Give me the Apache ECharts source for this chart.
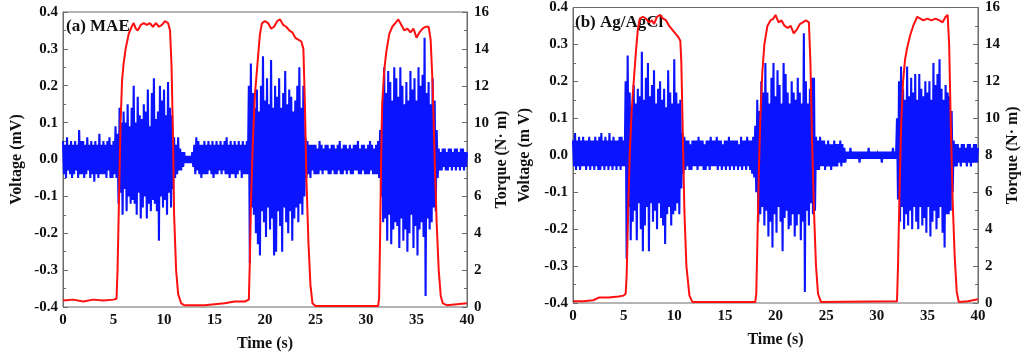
<!DOCTYPE html>
<html>
<head>
<meta charset="utf-8">
<script src="https://cdn.jsdelivr.net/npm/echarts@6/dist/echarts.min.js"></script>
<style>
html,body{margin:0;padding:0;background:#fff;}
#chart{width:1024px;height:357px;}
</style>
</head>
<body>
<div id="chart"></div>
<script>
// Time axis ticks
const timeTicks = [0, 5, 10, 15, 20, 25, 30, 35, 40];
// Sample spacing of the voltage traces (s)
const SAMPLE_DT = 0.1;

// Panel (a) MAE: voltage samples, units of 0.01 mV, one row per second
const voltA = [
 5,-4,4,-5,6,-3,4,-4,5,-5,
 4,-4,5,-3,4,-5,8,-4,5,-4,
 5,-5,4,-4,6,-3,4,-5,5,-4,
 4,-6,5,-4,4,-5,7,-4,4,-4,
 5,-4,4,-5,5,-3,6,-5,4,-5,
 5,-4,9,-5,7,-12,14,-9,10,-15,
 13,-8,10,-14,15,-10,9,-12,14,-11,
 20,-12,10,-15,17,-9,12,-16,11,-13,
 15,-10,13,-16,19,-12,9,-14,18,-11,
 22,-12,11,-14,13,-22,20,-10,16,-13,
 19,-11,12,-15,21,-9,14,-13,12,-8,
 6,-5,4,-4,6,-3,3,-3,2,-2,
 2,-1,1,-1,1,-1,1,-1,2,-2,
 4,-4,6,-3,5,-4,4,-5,4,-4,
 5,-4,4,-4,5,-3,4,-4,5,-5,
 4,-4,5,-4,4,-3,5,-4,4,-3,
 5,-4,6,-4,4,-5,5,-4,4,-4,
 5,-5,4,-4,5,-3,4,-5,5,-4,
 4,-4,5,-4,20,-28,26,-13,18,-15,
 14,-20,19,-23,13,-26,20,-14,28,-17,
 16,-21,22,-13,15,-19,27,-16,14,-26,
 20,-25,17,-14,22,-18,14,-25,18,-13,
 24,-17,15,-20,19,-14,17,-22,13,-16,
 16,-13,20,-17,25,-12,14,-15,20,-10,
 6,-5,5,-4,4,-5,4,-3,4,-4,
 4,-4,3,-4,5,-3,4,-4,3,-3,
 4,-3,4,-4,3,-4,4,-3,4,-4,
 3,-4,4,-3,5,-4,3,-4,4,-3,
 4,-4,3,-3,4,-4,3,-4,4,-3,
 4,-3,5,-4,3,-4,4,-3,4,-4,
 3,-4,4,-4,5,-3,4,-4,3,-4,
 4,-4,5,-5,8,-10,14,-17,25,-16,
 18,-22,24,-15,21,-23,16,-19,25,-17,
 22,-18,17,-24,25,-16,20,-22,15,-19,
 21,-25,16,-20,24,-15,19,-24,22,-18,
 16,-26,25,-19,20,-17,23,-21,33,-37,
 18,-16,21,-19,15,-17,22,-13,16,-14,
 8,-5,3,-3,2,-3,3,-2,3,-3,
 2,-3,3,-2,3,-3,2,-2,3,-3,
 3,-2,2,-3,3,-2,3,-3,2,-2,
 2
];

// Panel (b) Ag/AgCl: voltage samples, units of 0.01 mV
const voltB = [
 4,-3,6,-4,4,-3,5,-4,4,-3,
 5,-3,4,-4,4,-3,5,-4,4,-3,
 4,-4,5,-3,4,-4,5,-4,6,-3,
 4,-4,5,-3,4,-4,6,-3,4,-4,
 5,-3,4,-4,4,-3,5,-4,5,-3,
 4,-3,20,-28,27,-14,17,-23,13,-18,
 19,-15,14,-23,18,-13,16,-20,28,-26,
 15,-19,21,-14,25,-26,16,-13,19,-18,
 23,-15,14,-20,18,-13,20,-17,15,-19,
 18,-24,13,-16,23,-14,17,-19,14,-16,
 26,-15,17,-13,14,-16,15,-9,6,-5,
 5,-4,4,-3,4,-4,3,-4,4,-3,
 4,-3,4,-4,5,-3,4,-3,4,-4,
 3,-4,4,-3,4,-4,5,-3,4,-3,
 4,-3,5,-4,4,-3,4,-4,3,-3,
 4,-4,4,-3,5,-4,4,-3,4,-4,
 4,-3,4,-4,3,-3,5,-4,4,-3,
 4,-4,5,-3,4,-4,4,-5,5,-6,
 8,-10,15,-18,12,-16,20,-14,17,-19,
 25,-15,17,-22,14,-18,21,-25,25,-16,
 16,-21,23,-14,19,-18,14,-26,25,-17,
 22,-15,17,-20,14,-19,20,-16,17,-22,
 15,-19,21,-16,17,-23,14,-18,33,-37,
 20,-15,14,-19,18,-13,21,-16,21,-15,
 5,-4,4,-4,5,-3,4,-3,4,-4,
 3,-3,4,-3,3,-4,3,-3,4,-3,
 3,-3,3,-2,4,-3,3,-2,2,-2,
 1,-1,1,-1,2,-1,1,-1,1,-1,
 1,-1,1,-2,1,-1,1,-1,1,-1,
 1,-1,2,-1,1,-1,1,-1,1,-1,
 1,-1,1,-1,1,-2,1,-1,1,-1,
 1,-1,1,-1,1,-1,2,-1,1,-1,
 10,-12,20,-18,24,-14,18,-20,15,-16,
 24,-19,16,-15,21,-20,17,-14,22,-18,
 15,-20,22,-14,18,-19,16,-17,20,-21,
 17,-14,20,-22,15,-18,25,-15,19,-20,
 22,-17,26,-14,18,-21,15,-25,19,-16,
 17,-16,16,-15,12,-10,4,-3,3,-3,
 3,-2,2,-3,3,-2,3,-2,2,-3,
 3,-2,3,-3,2,-2,3,-2,3,-2,
 2
];

// Torque (N·m) vs time (s)
const torqueA = [
 [0,0.35],[1,0.4],[2,0.3],[3,0.4],[4,0.35],[5,0.4],[5.3,0.45],[5.4,2],[5.55,6],[5.7,10],
 [5.85,12.3],[6.0,13.2],[6.2,14.0],[6.5,14.8],[6.8,15.2],[7.0,15.4],[7.2,15.1],[7.4,15.0],
 [7.7,15.3],[8.0,15.4],[8.3,15.3],[8.6,15.4],[8.9,15.2],[9.2,15.4],[9.5,15.2],[9.8,15.3],
 [10.1,15.5],[10.4,15.4],[10.6,15.0],[10.75,13],[10.9,9],[11.0,5],[11.2,2],[11.4,0.7],
 [11.7,0.2],[12,0.1],[14,0.1],[15,0.15],[16,0.2],[17,0.3],[18,0.3],[18.4,0.4],[18.5,2.5],
 [18.6,5.5],[18.8,9],[19.0,11.5],[19.3,13.5],[19.5,14.8],[19.7,15.4],[20.0,15.5],[20.3,15.4],
 [20.6,15.1],[20.9,15.2],[21.2,15.5],[21.5,15.6],[21.8,15.3],[22.1,15.2],[22.4,15.0],
 [22.7,14.9],[23.0,14.6],[23.3,14.5],[23.6,14.4],[23.8,14.0],[23.95,11],[24.1,7],[24.3,3.5],
 [24.5,1.2],[24.7,0.2],[25,0.05],[31.2,0.05],[31.3,0.5],[31.4,4],[31.5,8],[31.6,11],
 [31.8,12.8],[32.0,13.8],[32.3,14.8],[32.6,15.2],[32.9,15.4],[33.2,15.6],[33.5,15.3],
 [33.8,15.0],[34.1,15.1],[34.4,14.9],[34.7,15.1],[35.0,14.6],[35.3,14.9],[35.6,15.1],
 [35.9,15.2],[36.2,15.2],[36.4,14.5],[36.6,12],[36.8,8],[37.0,4.5],[37.2,2],[37.4,0.6],
 [37.6,0.2],[38,0.1],[39,0.15],[40,0.2]
];
const torqueB = [
 [0,0.1],[1,0.1],[2,0.15],[2.6,0.3],[3.5,0.3],[4.5,0.35],[5.0,0.4],[5.2,0.5],[5.3,1.5],
 [5.45,5],[5.6,8],[5.8,10.5],[6.0,12],[6.2,13.5],[6.4,14.8],[6.6,15.4],[6.9,15.5],[7.2,15.4],
 [7.5,15.2],[7.8,15.3],[8.0,15.1],[8.3,15.5],[8.6,15.6],[8.9,15.4],[9.2,15.3],[9.5,15.0],
 [9.8,14.8],[10.1,14.6],[10.4,14.4],[10.6,14.2],[10.7,13],[10.85,9],[11.0,5],[11.2,2],
 [11.5,0.4],[11.8,0.05],[18.0,0.05],[18.1,0.5],[18.2,3],[18.35,7],[18.5,10],[18.7,12.5],
 [18.9,14],[19.2,15],[19.5,15.3],[19.8,15.4],[20.0,15.6],[20.3,15.2],[20.6,15.3],[20.9,15.0],
 [21.2,14.9],[21.5,15.0],[21.8,14.6],[22.1,14.8],[22.4,15.1],[22.7,15.2],[23.0,15.3],
 [23.3,15.2],[23.45,13],[23.6,9],[23.8,5],[24.0,2],[24.2,0.5],[24.5,0.05],[32.0,0.1],
 [32.1,2],[32.25,6],[32.4,9.5],[32.6,12],[32.8,13.2],[33.0,13.8],[33.3,14.5],[33.6,15.0],
 [34.0,15.5],[34.3,15.4],[34.6,15.3],[35.0,15.4],[35.4,15.3],[35.8,15.4],[36.2,15.3],
 [36.5,15.2],[36.8,15.5],[37.0,15.6],[37.15,14],[37.3,10],[37.5,5.5],[37.7,2.5],[37.9,0.6],
 [38.1,0.05],[39,0.1],[40,0.2]
];

const panelTitles = ['(a) MAE', '(b) Ag/AgCl'];
const voltNames = ['Voltage (mV)', 'Voltage (m V)'];
const torqueName = 'Torque (N· m)';
const timeName = 'Time (s)';

function toPairs(arr) {
  return arr.map((v, i) => [Math.round(i * SAMPLE_DT * 10) / 10, v / 100]);
}

const FONT = '"Liberation Serif", "Times New Roman", serif';
const AX = '#6b6b6b';
const labelStyle = {fontFamily: FONT, fontWeight: 'bold', fontSize: 15, color: '#111'};
const nameStyle = {fontFamily: FONT, fontWeight: 'bold', fontSize: 16, color: '#111'};

const grids = [
  {left: 63, right: 557, top: 12, bottom: 50},
  {left: 573, right: 46, top: 7, bottom: 54}
];

const xAxes = [], yAxes = [], series = [];
grids.forEach((g, k) => {
  xAxes.push({
    type: 'value', gridIndex: k, min: 0, max: 40, interval: 5,
    name: timeName, nameLocation: 'middle', nameGap: 29, nameTextStyle: nameStyle,
    axisLine: {lineStyle: {color: AX, width: 1}},
    axisTick: {inside: true, length: 5, lineStyle: {color: AX}},
    minorTick: {show: true, splitNumber: 2, length: 3, lineStyle: {color: AX}},
    axisLabel: Object.assign({margin: 6}, labelStyle),
    splitLine: {show: false}
  });
  yAxes.push({
    type: 'value', gridIndex: k, position: 'left', min: -0.4, max: 0.4, interval: 0.1,
    name: voltNames[k], nameLocation: 'middle', nameGap: k === 0 ? 38 : 40, nameTextStyle: nameStyle,
    axisLine: {show: true, lineStyle: {color: AX, width: 1}},
    axisTick: {show: true, inside: true, length: 5, lineStyle: {color: AX}},
    minorTick: {show: true, splitNumber: 2, length: 3, lineStyle: {color: AX}},
    axisLabel: Object.assign({margin: 5, formatter: v => v.toFixed(1)}, labelStyle),
    splitLine: {show: false}
  });
  yAxes.push({
    type: 'value', gridIndex: k, position: 'right', min: 0, max: 16, interval: 2,
    name: torqueName, nameLocation: 'middle', nameGap: 27, nameRotate: 90, nameTextStyle: nameStyle,
    axisLine: {show: true, lineStyle: {color: AX, width: 1}},
    axisTick: {show: true, inside: true, length: 5, lineStyle: {color: AX}},
    minorTick: {show: true, splitNumber: 2, length: 3, lineStyle: {color: AX}},
    axisLabel: Object.assign({margin: 7}, labelStyle),
    splitLine: {show: false}
  });
});

series.push({type: 'line', xAxisIndex: 0, yAxisIndex: 0, data: toPairs(voltA), showSymbol: false,
  lineStyle: {color: '#0a14ff', width: 2.1}, z: 2});
series.push({type: 'line', xAxisIndex: 0, yAxisIndex: 1, data: torqueA, showSymbol: false,
  lineStyle: {color: '#ff1010', width: 2}, z: 3});
series.push({type: 'line', xAxisIndex: 1, yAxisIndex: 2, data: toPairs(voltB), showSymbol: false,
  lineStyle: {color: '#0a14ff', width: 2.1}, z: 2});
series.push({type: 'line', xAxisIndex: 1, yAxisIndex: 3, data: torqueB, showSymbol: false,
  lineStyle: {color: '#ff1010', width: 2}, z: 3});

const chart = echarts.init(document.getElementById('chart'), null, {renderer: 'canvas'});
chart.setOption({
  animation: false,
  backgroundColor: '#fff',
  grid: grids.map(g => Object.assign({show: true, borderColor: AX, borderWidth: 1, containLabel: false}, g)),
  xAxis: xAxes,
  yAxis: yAxes,
  series: series,
  graphic: [
    {type: 'text', left: 66, top: 18, z: 1, style: {text: panelTitles[0], font: 'bold 17px ' + FONT, fill: '#111'}},
    {type: 'text', left: 575, top: 14, z: 1, style: {text: panelTitles[1], font: 'bold 17px ' + FONT, fill: '#111'}}
  ]
});
</script>
</body>
</html>
